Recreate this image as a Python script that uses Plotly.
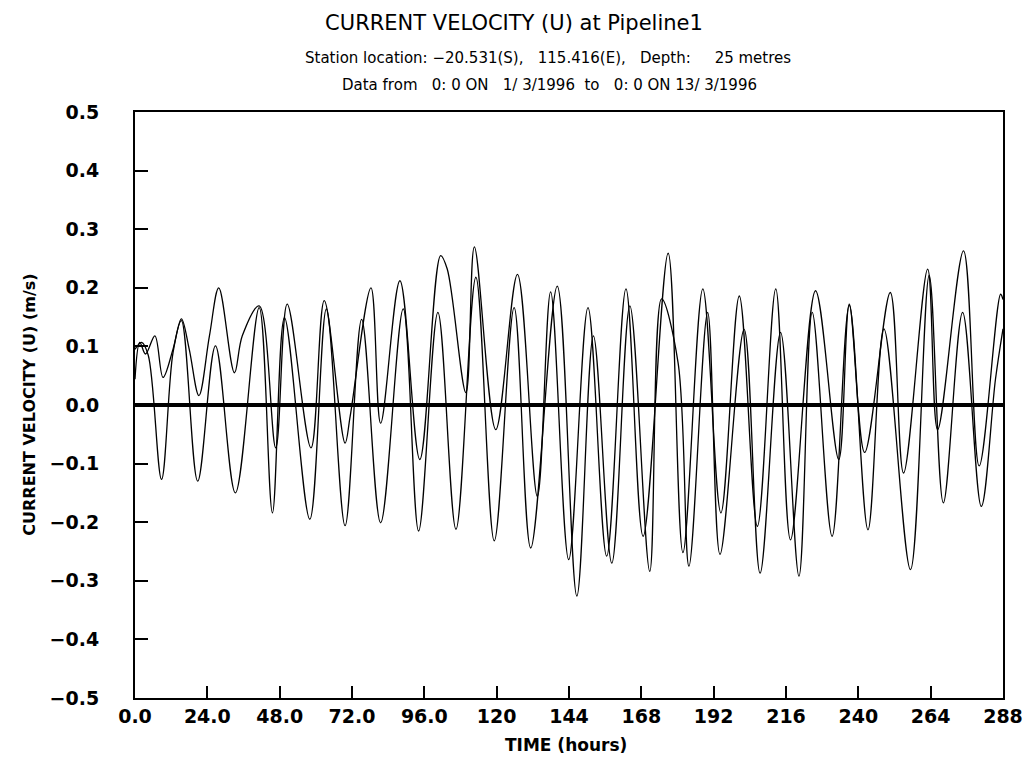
import plotly.graph_objects as go

# ---- data ----
time_a = [0.0, 1.6, 3.5, 6.6, 9.3, 12.6, 15.4, 18.0, 21.2, 24.7, 27.8, 33.0, 35.6, 41.2,
          46.7, 50.5, 58.4, 62.8, 69.7, 71.4, 78.3, 81.5, 87.9, 94.5, 101.4, 103.6, 109.8,
          112.6, 119.7, 126.9, 133.5, 137.9, 143.9, 150.3, 156.5, 162.9, 168.6, 176.9,
          181.8, 188.4, 194.4, 200.5, 206.5, 212.6, 217.5, 225.8, 233.5, 237.0, 242.1,
          250.6, 255.0, 263.0, 266.3, 274.9, 280.1, 287.2, 288.0]
vel_a = [0.044, 0.107, 0.087, 0.118, 0.047, 0.095, 0.147, 0.095, 0.016, 0.118, 0.200, 0.055,
         0.118, 0.169, -0.073, 0.172, -0.073, 0.178, -0.065, -0.019, 0.200, -0.031, 0.212,
         -0.093, 0.255, 0.232, 0.021, 0.270, -0.042, 0.223, -0.156, 0.193, -0.264, 0.166,
         -0.258, 0.198, -0.224, 0.259, -0.252, 0.198, -0.184, 0.186, -0.207, 0.198, -0.230,
         0.195, -0.093, 0.172, -0.081, 0.192, -0.116, 0.232, -0.042, 0.263, -0.104, 0.189,
         0.180]

time_b = [0.0, 2.2, 4.4, 8.8, 12.6, 15.4, 20.8, 26.7, 33.3, 41.2, 45.6, 49.6, 58.0, 63.5,
          69.7, 75.2, 81.5, 89.0, 94.1, 100.5, 106.5, 113.1, 119.2, 125.8, 131.3, 140.1,
          146.6, 152.1, 158.2, 164.2, 170.8, 174.7, 180.2, 183.8, 190.0, 194.1, 202.1,
          207.4, 214.2, 220.3, 224.7, 231.3, 237.0, 243.2, 248.5, 257.3, 263.5, 268.2,
          274.6, 280.8, 285.5, 288.0]
vel_b = [0.095, 0.107, 0.085, -0.127, 0.089, 0.144, -0.130, 0.101, -0.150, 0.166, -0.184,
         0.149, -0.195, 0.164, -0.206, 0.146, -0.201, 0.164, -0.215, 0.158, -0.212, 0.218,
         -0.232, 0.166, -0.244, 0.203, -0.326, 0.118, -0.270, 0.169, -0.284, 0.181, 0.072,
         -0.275, 0.158, -0.255, 0.129, -0.287, 0.124, -0.292, 0.158, -0.224, 0.170, -0.213,
         0.130, -0.281, 0.221, -0.167, 0.158, -0.173, 0.044, 0.130]

x_tick_vals = [0, 24, 48, 72, 96, 120, 144, 168, 192, 216, 240, 264, 288]
x_tick_text = ["0.0", "24.0", "48.0", "72.0", "96.0", "120", "144", "168", "192",
               "216", "240", "264", "288"]
y_tick_vals = [-0.5, -0.4, -0.3, -0.2, -0.1, 0.0, 0.1, 0.2, 0.3, 0.4, 0.5]

title_main = "CURRENT VELOCITY (U) at Pipeline1"
title_line2 = "Station location: \u221220.531(S),\u00a0\u00a0 115.416(E),\u00a0\u00a0 Depth:\u00a0\u00a0\u00a0\u00a0 25 metres"
title_line3 = "Data from\u00a0\u00a0 0: 0 ON\u00a0\u00a0 1/ 3/1996\u00a0 to\u00a0\u00a0 0: 0 ON 13/ 3/1996"
y_title = "CURRENT VELOCITY (U) (m/s)"
x_title = "TIME (hours)"

FONT = "DejaVu Sans"

fig = go.Figure()
for t, v in ((time_a, vel_a), (time_b, vel_b)):
    fig.add_trace(go.Scatter(
        x=t, y=v, mode="lines",
        line=dict(color="black", width=1.3, shape="spline", smoothing=1.0),
        hoverinfo="x+y", showlegend=False,
    ))

fig.update_layout(
    width=1035, height=762,
    margin=dict(l=135, r=26, t=112, b=64),
    paper_bgcolor="white", plot_bgcolor="white",
    showlegend=False,
    title=dict(text=title_main, x=514 / 1035, xanchor="center", xref="container",
               y=1 - 23 / 762, yanchor="middle", yref="container",
               font=dict(family=FONT, size=21, color="black")),
)

fig.update_xaxes(
    range=[0, 288], tickvals=x_tick_vals, ticktext=x_tick_text,
    showgrid=False, zeroline=False,
    showline=True, linecolor="black", linewidth=2, mirror=True,
    ticks="inside", ticklen=12, tickwidth=2, tickcolor="black",
    tickfont=dict(family=FONT, size=19, color="black", weight="bold"),
)
fig.update_yaxes(
    range=[-0.5, 0.5], tickvals=y_tick_vals, tickformat=".1f",
    showgrid=False,
    zeroline=True, zerolinecolor="black", zerolinewidth=3.5,
    showline=True, linecolor="black", linewidth=2, mirror=True,
    ticks="inside", ticklen=13, tickwidth=2, tickcolor="black",
    ticklabelstandoff=30,
    tickfont=dict(family=FONT, size=19, color="black", weight="bold"),
)

ann_font = dict(family=FONT, size=15, color="black")
fig.add_annotation(text=title_line2, xref="paper", yref="paper",
                   x=(551 - 135) / 874, y=1 + (112 - 58) / 586,
                   xanchor="center", yanchor="middle", showarrow=False, font=ann_font)
fig.add_annotation(text=title_line3, xref="paper", yref="paper",
                   x=(552 - 135) / 874, y=1 + (112 - 85) / 586,
                   xanchor="center", yanchor="middle", showarrow=False, font=ann_font)
fig.add_annotation(text=y_title, xref="paper", yref="paper",
                   x=(28 - 135) / 874, y=0.5, textangle=-90,
                   xanchor="center", yanchor="middle", showarrow=False,
                   font=dict(family=FONT, size=16, color="black", weight="bold"))
fig.add_annotation(text=x_title, xref="paper", yref="paper",
                   x=0.497, y=-(745 - 698) / 586,
                   xanchor="center", yanchor="middle", showarrow=False,
                   font=dict(family=FONT, size=17, color="black", weight="bold"))

fig.write_html("out.html", config={"displayModeBar": False},
               post_script="document.body.style.margin='0';")
